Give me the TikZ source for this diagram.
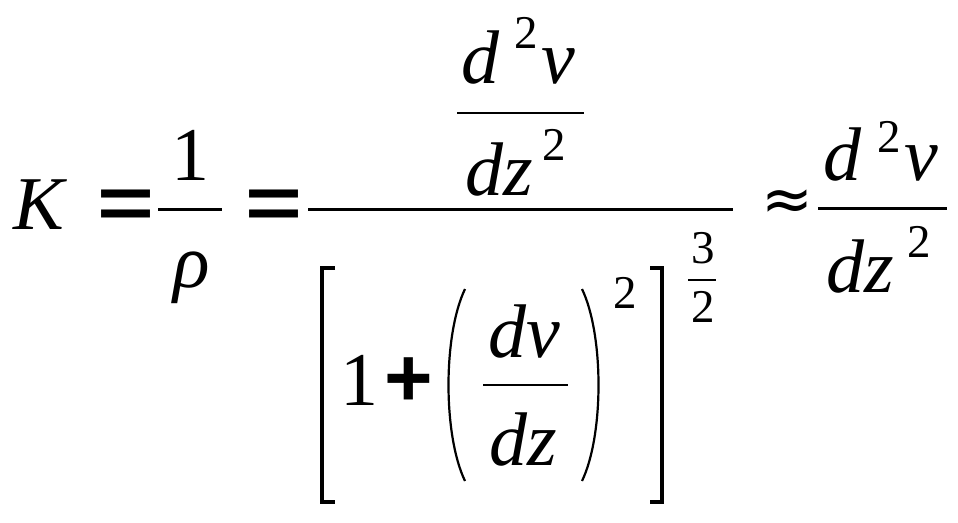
\documentclass[tikz,border=0pt]{standalone}
\usepackage{fontspec}
\setmainfont{Liberation Serif}
\newfontfamily\symfont{DejaVu Sans}
\newfontfamily\opfont{Liberation Sans}
\tikzset{
  glyph/.style={inner sep=0pt, outer sep=0pt, anchor=base west, font=\fontsize{76}{80}\selectfont},
  iglyph/.style={glyph, font=\fontsize{76}{80}\selectfont\itshape},
  supglyph/.style={inner sep=0pt, outer sep=0pt, anchor=base west, font=\fontsize{47}{50}\selectfont},
  relglyph/.style={inner sep=0pt, outer sep=0pt, anchor=center, font=\fontsize{78}{80}\selectfont\opfont\bfseries},
  opglyph/.style={inner sep=0pt, outer sep=0pt, anchor=center, font=\fontsize{64}{66}\selectfont\opfont\bfseries},
  thickbar/.style={line width=3pt},
  thinbar/.style={line width=1.3pt},
  delim/.style={line width=3.2pt}
}
\begin{document}
\begin{tikzpicture}[x=1pt,y=-1pt]
\useasboundingbox (0,0) rectangle (958,522);
% K =
\node[iglyph] (K) at (13,229) {K};
\node[relglyph] (eq1) at (126,209) {\scalebox{1.25}[0.95]{=}};
% 1/rho
\node[glyph, anchor=base] (one) at (190,180) {1};
\coordinate (b1l) at (158,209); \coordinate (b1r) at (222,209);
\draw[thickbar] (b1l) -- (b1r);
\node[iglyph, anchor=base] (rho) at (192,287) {ρ};
\node[relglyph] (eq2) at (274,209) {\scalebox{1.25}[0.95]{=}};
% main fraction bar
\coordinate (mbl) at (308,209); \coordinate (mbr) at (733,209);
\draw[thickbar] (mbl) -- (mbr);
% numerator d^2v / dz^2
\node[iglyph] (nd) at (461,83) {d};
\node[supglyph] (n2) at (514,48) {2};
\node[iglyph] (nv) at (541,83) {v};
\coordinate (nbl) at (457,113); \coordinate (nbr) at (584,113);
\draw[thinbar] (nbl) -- (nbr);
\node[iglyph] (ndz) at (465,195) {dz};
\node[supglyph] (nz2) at (542,160) {2};
% denominator
\coordinate (lbt) at (335,268); \coordinate (lbtc) at (322,268);
\coordinate (lbbc) at (322,502); \coordinate (lbb) at (335,502);
\draw[delim] (lbt) -- (lbtc) -- (lbbc) -- (lbb);
\node[glyph] (d1) at (340,405) {1};
\node[opglyph] (plus) at (409,382) {\scalebox{1.3}{+}};
\coordinate (lpt) at (465,289); \coordinate (lpb) at (465,481);
\draw[line width=2.2pt] (lpt) .. controls (443,335) and (443,435) .. (lpb);
\node[iglyph] (ddv) at (488,357) {dv};
\coordinate (dbl) at (483,385); \coordinate (dbr) at (568,385);
\draw[thinbar] (dbl) -- (dbr);
\node[iglyph] (ddz) at (489,465) {dz};
\coordinate (rpt) at (582,289); \coordinate (rpb) at (582,481);
\draw[line width=2.2pt] (rpt) .. controls (604,335) and (604,435) .. (rpb);
\node[supglyph] (p2) at (613,308) {2};
\coordinate (rbt) at (650,268); \coordinate (rbtc) at (662,268);
\coordinate (rbbc) at (662,502); \coordinate (rbb) at (650,502);
\draw[delim] (rbt) -- (rbtc) -- (rbbc) -- (rbb);
% exponent 3/2
\node[supglyph, anchor=base] (e3) at (703,263) {3};
\coordinate (ebl) at (688,280); \coordinate (ebr) at (716,280);
\draw[thinbar] (ebl) -- (ebr);
\node[supglyph, anchor=base] (e2) at (703,322) {2};
% approx
\node[inner sep=0pt, outer sep=0pt, anchor=center, font=\fontsize{62}{64}\selectfont\symfont] (approx) at (787,205) {≈};
% right fraction
\node[iglyph] (rd) at (823,180) {d};
\node[supglyph] (r2) at (877,152) {2};
\node[iglyph] (rv) at (904,180) {v};
\coordinate (rfl) at (818,208); \coordinate (rfr) at (947,208);
\draw[thickbar] (rfl) -- (rfr);
\node[iglyph] (rdz) at (826,292) {dz};
\node[supglyph] (rz2) at (907,257) {2};
\end{tikzpicture}
\end{document}
